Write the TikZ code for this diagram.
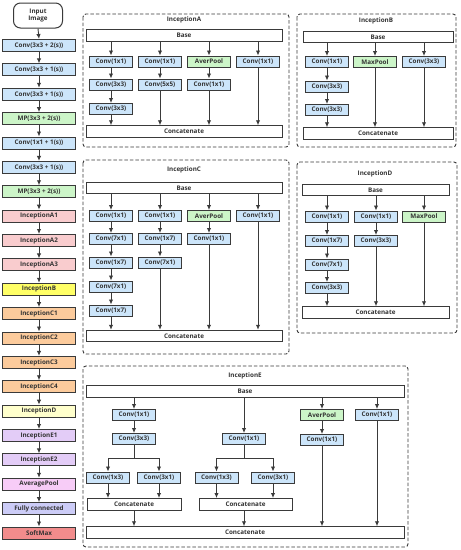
\documentclass[tikz,border=0pt]{standalone}
\usepackage{fontspec}
\setmainfont{Open Sans}
\usetikzlibrary{arrows.meta}
\definecolor{cblue}{HTML}{CCE5FA}
\definecolor{cgreen}{HTML}{CCF5C8}
\definecolor{cpink}{HTML}{F9CCCE}
\definecolor{cyel}{HTML}{FFFF66}
\definecolor{corange}{HTML}{FCCB9C}
\definecolor{cltyel}{HTML}{FFFFCC}
\definecolor{cpurp}{HTML}{E3CCF7}
\definecolor{cavg}{HTML}{F7CCF7}
\definecolor{cfc}{HTML}{CCCCF7}
\definecolor{csoft}{HTML}{F28C8C}
\definecolor{bline}{HTML}{3A3A3A}
\definecolor{tcol}{HTML}{333333}
\tikzset{
  bx/.style={draw=bline, line width=1pt, inner sep=0pt, font=\fontsize{6.3}{7}\selectfont\bfseries, text=tcol},
  lbx/.style={bx, minimum width=73pt, minimum height=12pt},
  ibx/.style={bx, fill=cblue, minimum width=43pt, minimum height=11pt},
  gbx/.style={ibx, fill=cgreen},
  wbx/.style={bx, fill=white, minimum height=11.5pt},
  arr/.style={-{Latex[length=5pt,width=4.4pt]}, draw=bline, line width=0.9pt},
  ln/.style={draw=bline, line width=0.9pt},
  panel/.style={draw=bline, line width=0.9pt, dash pattern=on 3.5pt off 2pt, rounded corners=3pt},
  ttl/.style={font=\fontsize{6.3}{7}\selectfont\bfseries, text=tcol, inner sep=0pt}
}
\begin{document}
\begin{tikzpicture}[x=1pt,y=-1pt]
\useasboundingbox (0,0) rectangle (461,550);
\fill[white] (0,0) rectangle (461,550);

% ---------------- left column ----------------
\node[bx, fill=white, rounded corners=7pt, minimum width=49pt, minimum height=25pt, align=center] (L0) at (38,15.5) {Input\\Image};
\node[lbx, fill=cblue]  (L1)  at (39,45.5)    {Conv(3x3 + 2(s))};
\node[lbx, fill=cblue]  (L2)  at (39,69.875)  {Conv(3x3 + 1(s))};
\node[lbx, fill=cblue]  (L3)  at (39,94.25)   {Conv(3x3 + 1(s))};
\node[lbx, fill=cgreen] (L4)  at (39,118.625) {MP(3x3 + 2(s))};
\node[lbx, fill=cblue]  (L5)  at (39,143.0)   {Conv(1x1 + 1(s))};
\node[lbx, fill=cblue]  (L6)  at (39,167.375) {Conv(3x3 + 1(s))};
\node[lbx, fill=cgreen] (L7)  at (39,191.75)  {MP(3x3 + 2(s))};
\node[lbx, fill=cpink]  (L8)  at (39,216.125) {InceptionA1};
\node[lbx, fill=cpink]  (L9)  at (39,240.5)   {InceptionA2};
\node[lbx, fill=cpink]  (L10) at (39,264.875) {InceptionA3};
\node[lbx, fill=cyel]   (L11) at (39,289.25)  {InceptionB};
\node[lbx, fill=corange](L12) at (39,313.625) {InceptionC1};
\node[lbx, fill=corange](L13) at (39,338.0)   {InceptionC2};
\node[lbx, fill=corange](L14) at (39,362.375) {InceptionC3};
\node[lbx, fill=corange](L15) at (39,386.75)  {InceptionC4};
\node[lbx, fill=cltyel] (L16) at (39,411.125) {InceptionD};
\node[lbx, fill=cpurp]  (L17) at (39,435.5)   {InceptionE1};
\node[lbx, fill=cpurp]  (L18) at (39,459.875) {InceptionE2};
\node[lbx, fill=cavg]   (L19) at (39,484.25)  {AveragePool};
\node[lbx, fill=cfc]    (L20) at (39,508.625) {Fully connected};
\node[lbx, fill=csoft]  (L21) at (39,533.0)   {SoftMax};
\foreach \a [evaluate=\a as \b using int(\a+1)] in {0,...,20}
  \draw[arr] (L\a.south) -- (L\b.north);

% ---------------- InceptionA ----------------
\draw[panel] (83,14) rectangle (289,147);
\node[ttl] (tA) at (184,20) {InceptionA};
\node[wbx, minimum width=196pt] (Abase) at (184,35.5) {Base};
\node[wbx, minimum width=196pt] (Acat) at (184,131.5) {Concatenate};
\node[ibx] (A11) at (111,61.5) {Conv(1x1)};
\node[ibx] (A12) at (111,84.5) {Conv(3x3)};
\node[ibx] (A13) at (111,109)  {Conv(3x3)};
\node[ibx] (A21) at (160,61.5) {Conv(1x1)};
\node[ibx] (A22) at (160,84.5) {Conv(5x5)};
\node[gbx] (A31) at (209,61.5) {AverPool};
\node[ibx] (A32) at (209,84.5) {Conv(1x1)};
\node[ibx] (A41) at (258,61.5) {Conv(1x1)};
\foreach \n in {A11,A21,A31,A41} \draw[arr] (\n.north |- Abase.south) -- (\n.north);
\draw[arr] (A11) -- (A12); \draw[arr] (A12) -- (A13);
\draw[arr] (A21) -- (A22); \draw[arr] (A31) -- (A32);
\foreach \n in {A13,A22,A32,A41} \draw[arr] (\n.south) -- (\n.south |- Acat.north);

% ---------------- InceptionB ----------------
\draw[panel] (297,14) rectangle (456,147);
\node[ttl] (tB) at (376,21) {InceptionB};
\node[wbx, minimum width=150pt] (Bbase) at (378,37) {Base};
\node[wbx, minimum width=150pt] (Bcat) at (378,133.5) {Concatenate};
\node[ibx] (B11) at (327,62)   {Conv(1x1)};
\node[ibx] (B12) at (327,86.5) {Conv(3x3)};
\node[ibx] (B13) at (327,110)  {Conv(3x3)};
\node[gbx] (B21) at (375,62)   {MaxPool};
\node[ibx] (B31) at (424,62)   {Conv(3x3)};
\foreach \n in {B11,B21,B31} \draw[arr] (\n.north |- Bbase.south) -- (\n.north);
\draw[arr] (B11) -- (B12); \draw[arr] (B12) -- (B13);
\foreach \n in {B13,B21,B31} \draw[arr] (\n.south) -- (\n.south |- Bcat.north);

% ---------------- InceptionC ----------------
\draw[panel] (83,160) rectangle (289,354);
\node[ttl] (tC) at (184,170) {InceptionC};
\node[wbx, minimum width=196pt] (Cbase) at (184,188) {Base};
\node[wbx, minimum width=196pt] (Ccat) at (184,336) {Concatenate};
\node[ibx] (C11) at (111,216)   {Conv(1x1)};
\node[ibx] (C12) at (111,239)   {Conv(7x1)};
\node[ibx] (C13) at (111,262.5) {Conv(1x7)};
\node[ibx] (C14) at (111,286.5) {Conv(7x1)};
\node[ibx] (C15) at (111,310.5) {Conv(1x7)};
\node[ibx] (C21) at (160,216)   {Conv(1x1)};
\node[ibx] (C22) at (160,239)   {Conv(1x7)};
\node[ibx] (C23) at (160,262.5) {Conv(7x1)};
\node[gbx] (C31) at (209,216)   {AverPool};
\node[ibx] (C32) at (209,239)   {Conv(1x1)};
\node[ibx] (C41) at (258,216)   {Conv(1x1)};
\foreach \n in {C11,C21,C31,C41} \draw[arr] (\n.north |- Cbase.south) -- (\n.north);
\draw[arr] (C11) -- (C12); \draw[arr] (C12) -- (C13); \draw[arr] (C13) -- (C14); \draw[arr] (C14) -- (C15);
\draw[arr] (C21) -- (C22); \draw[arr] (C22) -- (C23);
\draw[arr] (C31) -- (C32);
\foreach \n in {C15,C23,C32,C41} \draw[arr] (\n.south) -- (\n.south |- Ccat.north);

% ---------------- InceptionD ----------------
\draw[panel] (297,162) rectangle (457,333);
\node[ttl] (tD) at (375,174) {InceptionD};
\node[wbx, minimum width=147pt] (Dbase) at (375.5,190) {Base};
\node[wbx, minimum width=147pt] (Dcat) at (375.5,312.5) {Concatenate};
\node[ibx] (D11) at (327,216.5) {Conv(1x1)};
\node[ibx] (D12) at (327,241)   {Conv(1x7)};
\node[ibx] (D13) at (327,264.5) {Conv(7x1)};
\node[ibx] (D14) at (327,288)   {Conv(3x3)};
\node[ibx] (D21) at (376,216.5) {Conv(1x1)};
\node[ibx] (D22) at (376,241)   {Conv(3x3)};
\node[gbx] (D31) at (424,216.5) {MaxPool};
\foreach \n in {D11,D21,D31} \draw[arr] (\n.north |- Dbase.south) -- (\n.north);
\draw[arr] (D11) -- (D12); \draw[arr] (D12) -- (D13); \draw[arr] (D13) -- (D14);
\draw[arr] (D21) -- (D22);
\foreach \n in {D14,D22,D31} \draw[arr] (\n.south) -- (\n.south |- Dcat.north);

% ---------------- InceptionE ----------------
\draw[panel] (83,366) rectangle (408,547);
\node[ttl] (tE) at (245,376) {InceptionE};
\node[wbx, minimum width=318pt] (Ebase) at (245,391.5) {Base};
\node[wbx, minimum width=318pt] (Ecat) at (245,532.5) {Concatenate};
% left branch
\node[ibx] (E11) at (134,415)   {Conv(1x1)};
\node[ibx] (E12) at (134,439)   {Conv(3x3)};
\node[ibx] (E13) at (108,477.5) {Conv(1x3)};
\node[ibx] (E14) at (159,477.5) {Conv(3x1)};
\node[wbx, minimum width=94pt, minimum height=12pt] (Ecat1) at (134,504.5) {Concatenate};
\coordinate (Es1) at (134,458);
\draw[arr] (E11.north |- Ebase.south) -- (E11.north);
\draw[arr] (E11) -- (E12);
\draw[ln] (E12.south) -- (Es1);
\draw[arr] (Es1) -| (E13.north);
\draw[arr] (Es1) -| (E14.north);
\draw[arr] (E13.south) -- (E13.south |- Ecat1.north);
\draw[arr] (E14.south) -- (E14.south |- Ecat1.north);
\draw[arr] (Ecat1.south) -- (Ecat1.south |- Ecat.north);
% middle branch
\node[ibx] (E21) at (244,439)   {Conv(1x1)};
\node[ibx] (E22) at (216.5,477.5) {Conv(1x3)};
\node[ibx] (E23) at (273,477.5) {Conv(3x1)};
\node[wbx, minimum width=93pt, minimum height=12pt] (Ecat2) at (245.5,504.5) {Concatenate};
\coordinate (Es2) at (244,458);
\draw[arr] (E21.north |- Ebase.south) -- (E21.north);
\draw[ln] (E21.south) -- (Es2);
\draw[arr] (Es2) -| (E22.north);
\draw[arr] (Es2) -| (E23.north);
\draw[arr] (E22.south) -- (E22.south |- Ecat2.north);
\draw[arr] (E23.south) -- (E23.south |- Ecat2.north);
\draw[arr] (E21.south |- Ecat2.south) -- (E21.south |- Ecat.north);
% pool branch
\node[gbx] (E31) at (322,415) {AverPool};
\node[ibx] (E32) at (322,440) {Conv(1x1)};
\draw[arr] (E31.north |- Ebase.south) -- (E31.north);
\draw[arr] (E31) -- (E32);
\draw[arr] (E32.south) -- (E32.south |- Ecat.north);
% 1x1 branch
\node[ibx] (E41) at (377,415) {Conv(1x1)};
\draw[arr] (E41.north |- Ebase.south) -- (E41.north);
\draw[arr] (E41.south) -- (E41.south |- Ecat.north);
\end{tikzpicture}
\end{document}
